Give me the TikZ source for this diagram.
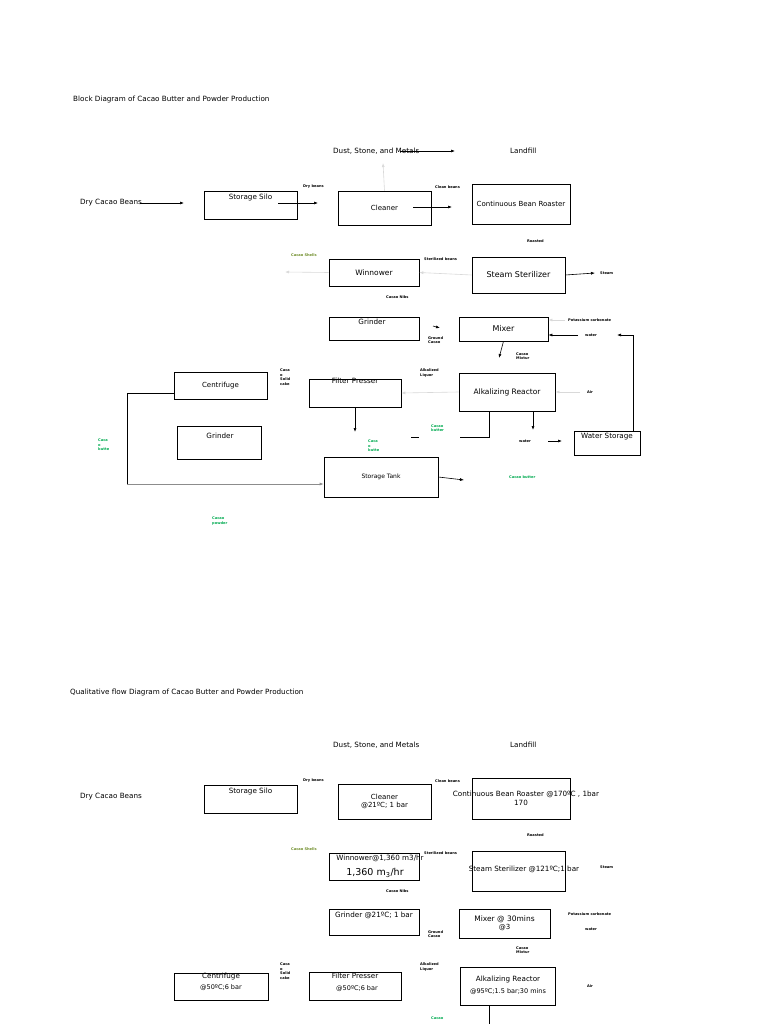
\documentclass[tikz,border=0pt]{standalone}
\usepackage{fontspec}
\setmainfont{DejaVu Sans}
\usetikzlibrary{arrows.meta}
\definecolor{grn}{RGB}{0,170,80}
\definecolor{olv}{RGB}{110,140,40}
\begin{document}
\begin{tikzpicture}[x=1pt,y=-1pt,
 box/.style={draw,line width=0.6pt,inner sep=0pt,font=\fontsize{7}{8}\selectfont,align=center},
 lbl/.style={font=\fontsize{7.2}{8}\selectfont,inner sep=0pt},
 tiny/.style={font=\bfseries\fontsize{3.6}{4.6}\selectfont,inner sep=0pt,align=left,anchor=west},
 gtiny/.style={tiny,text=grn},
 arr/.style={-{Latex[length=4pt,width=3pt]},line width=0.6pt},
 garr/.style={arr,draw=black!15}]
\useasboundingbox (0,0) rectangle (768,1024);
% ---------- block diagram
\node[lbl,anchor=west] (t1) at (73,100) {Block Diagram of Cacao Butter and Powder Production};
\node[lbl,anchor=west] (dry) at (80,203) {Dry Cacao Beans};
\node[lbl,anchor=west] (dust) at (333,151) {Dust, Stone, and Metals};
\node[lbl,anchor=west] (land) at (510,151) {Landfill};
\node[box,minimum width=93,minimum height=28] (silo) at (250.5,205) {};
\node[lbl] at (250.5,198) {Storage Silo};
\node[box,minimum width=93,minimum height=34] (clean) at (384.5,208) {Cleaner};
\node[box,minimum width=98,minimum height=40] (roast) at (521,204) {Continuous Bean Roaster};
\node[box,minimum width=90,minimum height=27] (win) at (374,272.5) {\fontsize{7.5}{8}\selectfont Winnower};
\node[box,minimum width=93,minimum height=36] (ster) at (518.5,275) {\fontsize{8}{9}\selectfont Steam Sterilizer};
\node[box,minimum width=90,minimum height=23] (grind) at (374,328.5) {};
\node[lbl] at (372,322) {Grinder};
\node[box,minimum width=89,minimum height=24] (mix) at (503.5,329) {\fontsize{8}{9}\selectfont Mixer};
\node[box,minimum width=93,minimum height=27] (cent) at (220.5,385.5) {Centrifuge};
\node[box,minimum width=92,minimum height=28] (filt) at (355,393) {};
\node[lbl] at (355,381) {Filter Presser};
\node[box,minimum width=96,minimum height=38] (reac) at (507,392) {\fontsize{7.5}{8}\selectfont Alkalizing Reactor};
\node[box,minimum width=84,minimum height=33] (grind2) at (219,442.5) {};
\node[lbl] at (220,436) {Grinder};
\node[box,minimum width=114,minimum height=40] (tank) at (381,477) {\fontsize{6}{7}\selectfont Storage Tank};
\node[box,minimum width=66,minimum height=24] (ws) at (607,443) {};
\node[lbl] at (607,437) {Water Storage};
% tiny labels
\node[tiny] at (303,187) {Dry beans};
\node[tiny] at (435,187) {Clean beans};
\node[tiny] at (527,241) {Roasted};
\node[tiny,text=olv] at (291,255) {Cacao Shells};
\node[tiny] at (424,259) {Sterilized beans};
\node[tiny] at (600,273) {Steam};
\node[tiny] at (386,297) {Cacao Nibs};
\node[tiny] at (428,340) {Ground\\Cacao};
\node[tiny] at (568,320) {Potassium carbonate};
\node[tiny] (wa) at (585,335) {water};
\node[tiny] at (516,356) {Cacao\\Mixtur};
\node[tiny] at (420,373) {Alkalized\\Liquor};
\node[tiny] at (587,392) {Air};
\node[tiny] (wb) at (519,441) {water};
\node[tiny] at (280,377) {Caca\\o\\Solid\\cake};
\node[gtiny] at (431,428) {Cacao\\butter};
\node[gtiny] at (368,446) {Caca\\o\\butte};
\node[gtiny] at (98,445) {Caca\\o\\butte};
\node[gtiny] at (509,477) {Cacao butter};
\node[gtiny] at (212,521) {Cacao\\powder};
% arrows
\coordinate (a1) at (184,203); \draw[arr] (140,203) -- (a1);
\coordinate (a2) at (318,203); \draw[arr] (278,203) -- (a2);
\draw[garr] (clean.north) -- (383,163);
\coordinate (a3) at (455,151); \draw[arr] (400,151) -- (a3);
\coordinate (a4) at (452,207); \draw[arr] (413,207) -- (a4);
\draw[garr] (ster.west) -- (win.east);
\coordinate (a5) at (285,272); \draw[garr] (win.west) -- (a5);
\coordinate (a6) at (595,273); \draw[arr] (ster.east) -- (a6);
\draw[arr] (433,326) -- (440,328);
\draw[garr] (565,320) -- (mix.east |- 0,320);
\draw[arr] (578,335) -- (mix.east |- 0,335);
\draw[arr] (ws.north -| 633,0) -- (633,335) -- (617,335);
\draw[arr] (mix.south) -- (499,358);
\draw[garr] (reac.west) -- (filt.east);
\draw[garr] (580,392) -- (reac.east);
\draw[arr] (533,411) -- (533,430);
\draw[arr] (548,441) -- (562,441);
\draw[line width=0.6pt] (489,411) -- (489,437) -- (460,437);
\draw[line width=0.6pt] (411,437) -- (419,437);
\draw[arr] (filt.south) -- (355,432);
\draw[arr] (tank.east) -- (464,480);
\draw[line width=0.6pt] (cent.west |- 0,393) -- (127,393) -- (127,484);
\draw[arr,draw=black!45] (127,484) -- (tank.west |- 0,484);
% ---------- qualitative flow diagram
\node[lbl,anchor=west] (t2) at (70,693) {Qualitative flow Diagram of Cacao Butter and Powder Production};
\node[lbl,anchor=west] at (80,797) {Dry Cacao Beans};
\node[lbl,anchor=west] at (333,745) {Dust, Stone, and Metals};
\node[lbl,anchor=west] at (510,745) {Landfill};
\node[box,minimum width=93,minimum height=28] (silo2) at (250.5,799) {};
\node[lbl] at (250.5,792) {Storage Silo};
\node[box,minimum width=93,minimum height=35] (clean2) at (384.5,801.5) {Cleaner\\@21ºC; 1 bar};
\node[box,minimum width=98,minimum height=41] (roast2) at (521,798.5) {};
\node[lbl] at (526,794) {Continuous Bean Roaster @170ºC , 1bar};
\node[lbl] at (521,803) {170};
\node[box,minimum width=90,minimum height=27] (win2) at (374,866.5) {};
\node[lbl] at (380,858) {Winnower@1,360 m3/hr};
\node[lbl,font=\fontsize{9.5}{10}\selectfont] at (375,873) {1,360 m\textsubscript{3}/hr};
\node[box,minimum width=93,minimum height=40] (ster2) at (518.5,871) {};
\node[lbl] at (524,869) {Steam Sterilizer @121ºC;1 bar};
\node[box,minimum width=90,minimum height=26] (grind3) at (374,922) {};
\node[lbl] at (374,915) {Grinder @21ºC; 1 bar};
\node[box,minimum width=91,minimum height=29] (mix2) at (504.5,923.5) {\fontsize{7.5}{10}\selectfont Mixer @ 30mins\\@3};
\node[box,minimum width=94,minimum height=27] (cent2) at (221,986.5) {};
\node[lbl] at (221,977) {Centrifuge};
\node[lbl,font=\fontsize{6.5}{7}\selectfont] at (221,988) {@50ºC;6 bar};
\node[box,minimum width=92,minimum height=28] (filt2) at (355,986) {};
\node[lbl] at (355,976) {Filter Presser};
\node[lbl,font=\fontsize{6.5}{7}\selectfont] at (357,989) {@50ºC;6 bar};
\node[box,minimum width=95,minimum height=38] (reac2) at (507.5,986) {};
\node[lbl] at (508,980) {Alkalizing Reactor};
\node[lbl,font=\fontsize{6.5}{7}\selectfont] at (508,992) {@95ºC;1.5 bar;30 mins};
\node[tiny] at (303,781) {Dry beans};
\node[tiny] at (435,781) {Clean beans};
\node[tiny] at (527,835) {Roasted};
\node[tiny,text=olv] at (291,849) {Cacao Shells};
\node[tiny] at (424,853) {Sterilized beans};
\node[tiny] at (600,867) {Steam};
\node[tiny] at (386,891) {Cacao Nibs};
\node[tiny] at (428,934) {Ground\\Cacao};
\node[tiny] at (568,914) {Potassium carbonate};
\node[tiny] at (585,929) {water};
\node[tiny] at (516,950) {Cacao\\Mixtur};
\node[tiny] at (420,967) {Alkalized\\Liquor};
\node[tiny] at (587,986) {Air};
\node[tiny] at (280,971) {Caca\\o\\Solid\\cake};
\node[gtiny] at (431,1018) {Cacao};
\coordinate (bot) at (489,1024);
\draw[line width=0.6pt] (reac2.south -| 489,0) -- (bot);
\end{tikzpicture}
\end{document}
